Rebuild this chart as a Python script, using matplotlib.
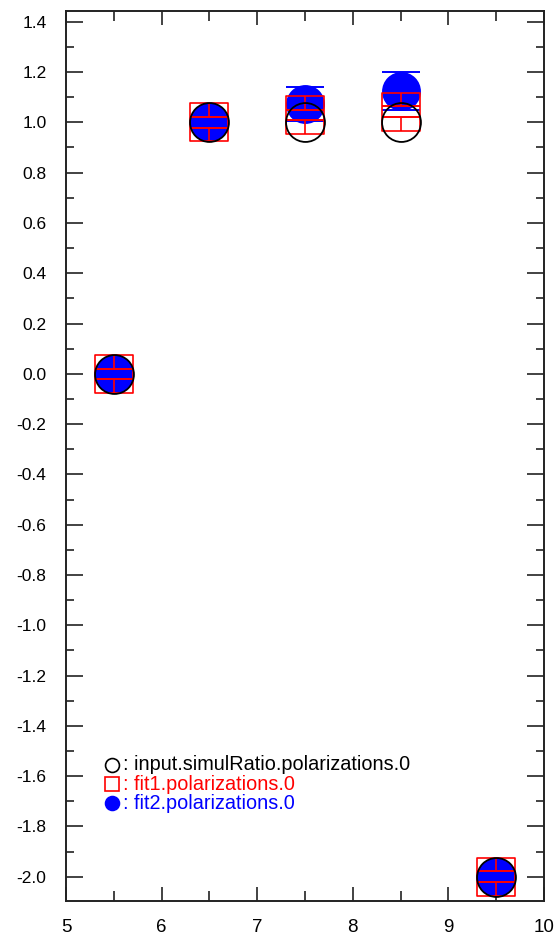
import numpy as np
import matplotlib
matplotlib.use('Agg')
from matplotlib import pyplot as plt
from matplotlib.path import Path
from matplotlib.ticker import MultipleLocator, FormatStrFormatter

plt.rcParams['font.family'] = ['Liberation Sans', 'DejaVu Sans']
plt.rcParams['axes.unicode_minus'] = False

# data
xpos = [5.5, 6.5, 7.5, 8.5, 9.5]
input_vals = [0.0, 1.0, 1.0, 1.0, -2.0]
fit1_vals = [0.0, 1.0, 1.03, 1.043, -2.0]
fit1_err = [0.021, 0.021, 0.021, 0.021, 0.021]
fit2_vals = [0.0, 1.0, 1.072, 1.124, -2.0]
fit2_err = [0.0, 0.0, 0.068, 0.075, 0.0]

legend_names = ['input.simulRatio.polarizations.0', 'fit1.polarizations.0', 'fit2.polarizations.0']
legend_cols = ['black', 'red', 'blue']

fig = plt.figure(figsize=(5.59, 9.38), dpi=100)
ax = fig.add_axes([0.118, 0.0398, 0.855, 0.9488])

# square with a broken vertical bar, like the red marker in the picture
g = 0.27
verts = [(-1, -1), (1, -1), (1, 1), (-1, 1), (-1, -1),
         (0, 1), (0, g), (0, -g), (0, -1)]
codes = [Path.MOVETO, Path.LINETO, Path.LINETO, Path.LINETO, Path.CLOSEPOLY,
         Path.MOVETO, Path.LINETO, Path.MOVETO, Path.LINETO]
sq_marker = Path(verts, codes)

ms = 28
cap = ms / 2.0
# fit2 : blue filled circles with error caps
ax.errorbar(xpos, fit2_vals, yerr=fit2_err, fmt='o', color='blue', ms=ms,
            mec='none', ecolor='blue', elinewidth=1.2, capsize=cap, capthick=1.4, zorder=2)
# fit1 : red open squares
ax.plot(xpos, fit1_vals, ls='none', marker=sq_marker, ms=ms, mfc='none',
        mec='red', mew=1.2, zorder=3)
ax.errorbar(xpos, fit1_vals, yerr=fit1_err, fmt='none', ecolor='red',
            elinewidth=0, capsize=cap, capthick=1.4, zorder=3)
# input : black open circles
ax.plot(xpos, input_vals, ls='none', marker='o', ms=ms, mfc='none',
        mec='black', mew=1.3, zorder=4)

ax.set_xlim(5, 10)
ax.set_ylim(-2.095, 1.444)

ax.xaxis.set_major_locator(MultipleLocator(1))
ax.xaxis.set_minor_locator(MultipleLocator(0.5))
ax.yaxis.set_major_locator(MultipleLocator(0.2))
ax.yaxis.set_minor_locator(MultipleLocator(0.1))
ax.yaxis.set_major_formatter(FormatStrFormatter('%.1f'))
ax.xaxis.set_major_formatter(FormatStrFormatter('%d'))

ax.tick_params(axis='both', which='both', direction='in', top=True, right=True,
               width=1.2, color='#222222')
ax.tick_params(axis='y', which='major', length=12, pad=14, labelsize=12.5)
ax.tick_params(axis='y', which='minor', length=6)
ax.tick_params(axis='x', which='major', length=10, pad=13, labelsize=13.5)
ax.tick_params(axis='x', which='minor', length=7)
for s in ax.spines.values():
    s.set_linewidth(1.4)
    s.set_color('#222222')

# legend drawn by hand, rows stacked inside the frame
leg_mk = [dict(marker='o', mfc='none', mec='black'),
          dict(marker='s', mfc='none', mec='red'),
          dict(marker='o', mfc='blue', mec='blue')]
ly = [0.1525, 0.131, 0.1097]
for i in range(3):
    ax.plot([0.097], [ly[i]], transform=ax.transAxes, ls='none', ms=10, mew=1.2,
            clip_on=False, **leg_mk[i])
    ax.text(0.119, ly[i], ': ' + legend_names[i], color=legend_cols[i],
            transform=ax.transAxes, va='center', ha='left', fontsize=14.3)

plt.savefig('out.png', dpi=100)
